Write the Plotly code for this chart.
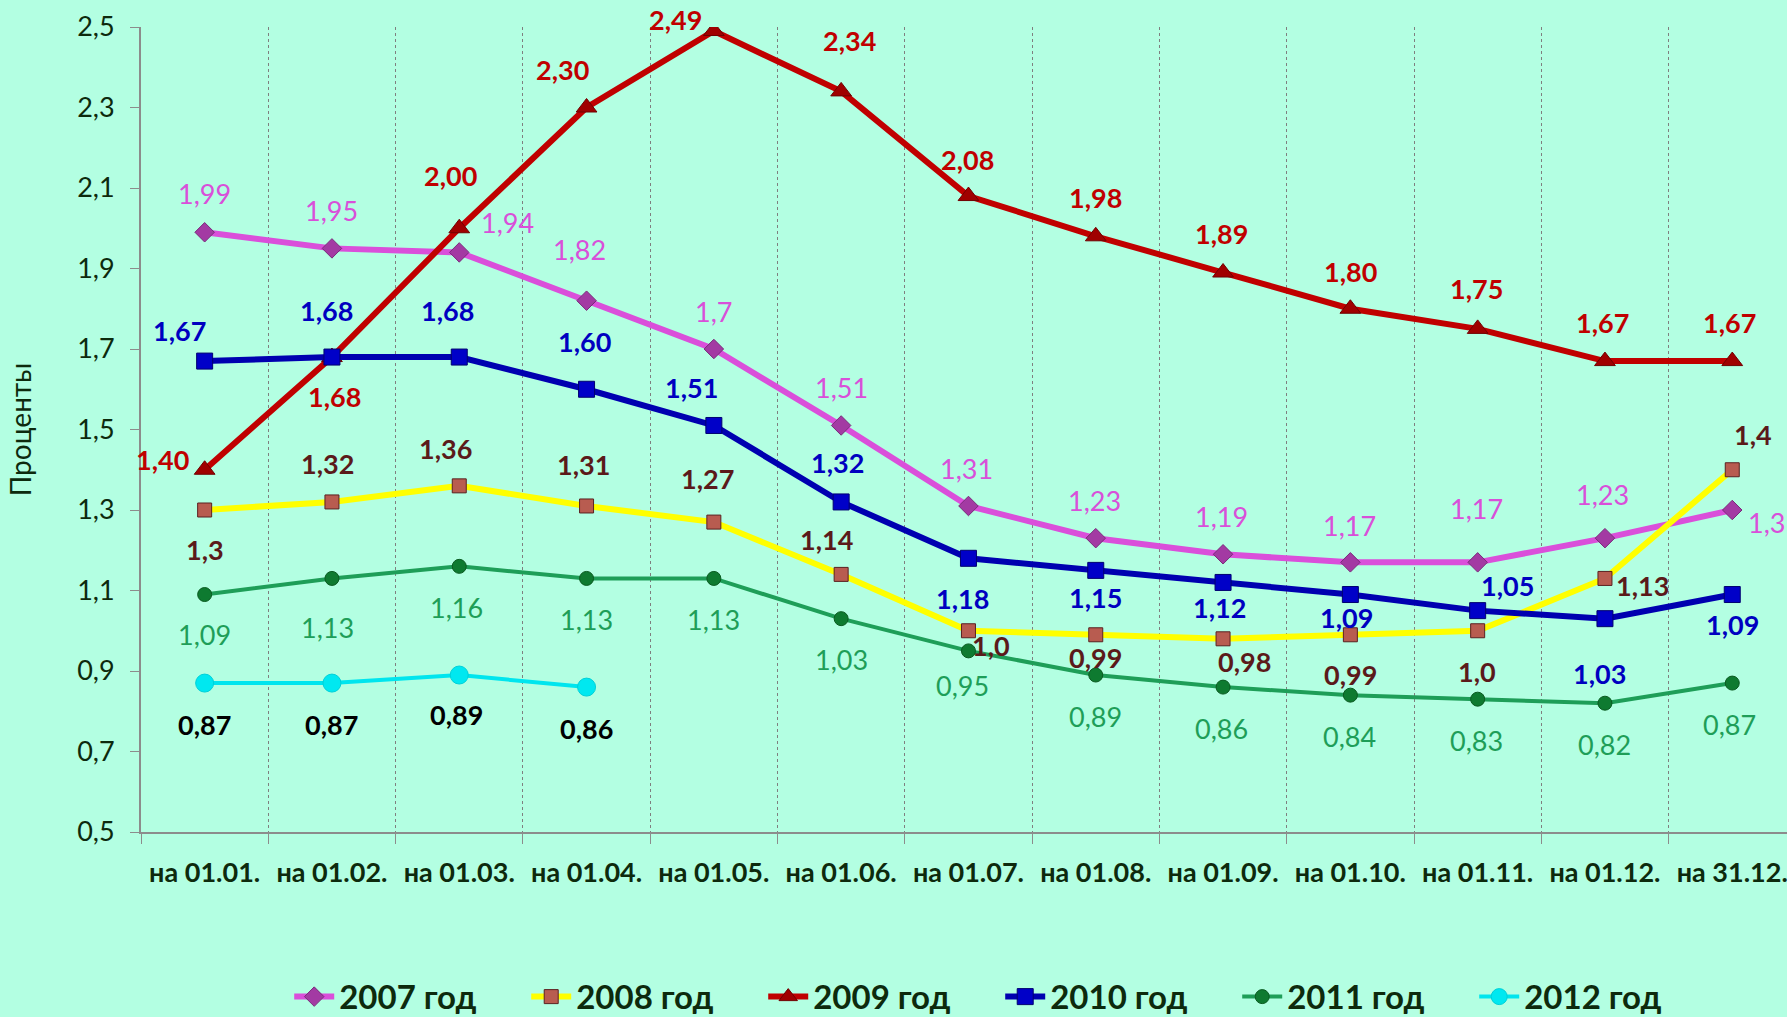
import plotly.graph_objects as go

categories = ["на 01.01.", "на 01.02.", "на 01.03.", "на 01.04.", "на 01.05.", "на 01.06.",
              "на 01.07.", "на 01.08.", "на 01.09.", "на 01.10.", "на 01.11.", "на 01.12.", "на 31.12."]

y2007 = [1.99, 1.95, 1.94, 1.82, 1.70, 1.51, 1.31, 1.23, 1.19, 1.17, 1.17, 1.23, 1.30]
y2008 = [1.30, 1.32, 1.36, 1.31, 1.27, 1.14, 1.00, 0.99, 0.98, 0.99, 1.00, 1.13, 1.40]
y2009 = [1.40, 1.68, 2.00, 2.30, 2.49, 2.34, 2.08, 1.98, 1.89, 1.80, 1.75, 1.67, 1.67]
y2010 = [1.67, 1.68, 1.68, 1.60, 1.51, 1.32, 1.18, 1.15, 1.12, 1.09, 1.05, 1.03, 1.09]
y2011 = [1.09, 1.13, 1.16, 1.13, 1.13, 1.03, 0.95, 0.89, 0.86, 0.84, 0.83, 0.82, 0.87]
y2012 = [0.87, 0.87, 0.89, 0.86]

lab2007 = ["1,99", "1,95", "1,94", "1,82", "1,7", "1,51", "1,31", "1,23", "1,19", "1,17", "1,17", "1,23", "1,3"]
lab2008 = ["1,3", "1,32", "1,36", "1,31", "1,27", "1,14", "1,0", "0,99", "0,98", "0,99", "1,0", "1,13", "1,4"]
lab2009 = ["1,40", "1,68", "2,00", "2,30", "2,49", "2,34", "2,08", "1,98", "1,89", "1,80", "1,75", "1,67", "1,67"]
lab2010 = ["1,67", "1,68", "1,68", "1,60", "1,51", "1,32", "1,18", "1,15", "1,12", "1,09", "1,05", "1,03", "1,09"]
lab2011 = ["1,09", "1,13", "1,16", "1,13", "1,13", "1,03", "0,95", "0,89", "0,86", "0,84", "0,83", "0,82", "0,87"]
lab2012 = ["0,87", "0,87", "0,89", "0,86"]

# label offsets (pixels, dx, dy with screen y downward) - style only
S = 1.14
off2007 = [(0, -34), (0, -33), (42, -26), (-6, -45), (0, -33), (0, -33), (-2, -33), (-1, -33), (-1, -33), (-1, -32), (-1, -47), (-2, -38), (30, 11)]
off2008 = [(0, 35), (-4, -34), (-12, -33), (-3, -36), (-6, -38), (-13, -31), (20, 13), (0, 20), (19, 20), (0, 35), (-1, 36), (33, 6), (18, -31)]
off2009 = [(-37, -9), (2, 35), (-8, -46), (-21, -33), (-34, -10), (7, -45), (-1, -32), (0, -34), (-1, -34), (0, -33), (-1, -35), (-2, -34), (-2, -34)]
off2010 = [(-22, -27), (-5, -41), (-10, -41), (-2, -42), (-20, -33), (-3, -35), (-5, 35), (0, 24), (-3, 22), (-3, 20), (26, -22), (-5, 48), (0, 26)]
off2011 = [(0, 35), (-4, 43), (-2, 36), (0, 36), (0, 36), (0, 36), (-5, 30), (0, 36), (-1, 36), (-1, 36), (-1, 36), (0, 36), (-2, 36)]
off2012 = [(0, 36), (0, 36), (-2, 35), (0, 36)]

FONT = "Lato, 'Liberation Sans Narrow', 'Open Sans', sans-serif"

series = [
    dict(name="2007 год", y=y2007, lab=lab2007, off=off2007, line="#DA4FDA", lw=6,
         msym="diamond", mcol="#A33AA3", mline="#7A2A7A", msize=15, lcol="#D94FD9", bold=False),
    dict(name="2008 год", y=y2008, lab=lab2008, off=off2008, line="#FFFF00", lw=6,
         msym="square", mcol="#B85C50", mline="#5B2020", msize=14, lcol="#5B1A1A", bold=True),
    dict(name="2009 год", y=y2009, lab=lab2009, off=off2009, line="#C00000", lw=6,
         msym="triangle-up", mcol="#A00000", mline="#700000", msize=18, lcol="#C00000", bold=True),
    dict(name="2010 год", y=y2010, lab=lab2010, off=off2010, line="#0000B0", lw=6,
         msym="square", mcol="#0000C8", mline="#000070", msize=16, lcol="#0000C0", bold=True),
    dict(name="2011 год", y=y2011, lab=lab2011, off=off2011, line="#1E9E58", lw=4,
         msym="circle", mcol="#0E7A30", mline="#0A5A20", msize=14, lcol="#1E9E58", bold=False),
    dict(name="2012 год", y=y2012, lab=lab2012, off=off2012, line="#00E5EE", lw=4,
         msym="circle", mcol="#00E8F0", mline="#00D0D8", msize=18, lcol="#000000", bold=True),
]

fig = go.Figure()
annotations = []
for s in series:
    xs = categories[:len(s["y"])]
    fig.add_trace(go.Scatter(
        x=xs, y=s["y"], name=s["name"], mode="lines+markers",
        line=dict(color=s["line"], width=s["lw"]),
        marker=dict(symbol=s["msym"], color=s["mcol"], size=s["msize"],
                    line=dict(color=s["mline"], width=1)),
    ))
    for xv, yv, t, (dx, dy) in zip(xs, s["y"], s["lab"], s["off"]):
        annotations.append(dict(
            x=xv, y=yv, text=t, showarrow=False, xshift=dx * S, yshift=-dy * S,
            font=dict(family=FONT, size=27, color=s["lcol"],
                      weight="bold" if s["bold"] else "normal"),
        ))

fig.update_layout(
    width=1787, height=1017,
    paper_bgcolor="#B3FFE2", plot_bgcolor="#B3FFE2",
    margin=dict(l=141, r=0, t=27, b=185),
    font=dict(family=FONT, color="#0D2A0D"),
    annotations=annotations,
    showlegend=True,
    legend=dict(orientation="h", x=0.522, xanchor="center", yref="container", y=0.02, yanchor="middle",
                font=dict(size=33, color="#0D2A0D", weight="bold"), bgcolor="rgba(0,0,0,0)",
                entrywidth=182, entrywidthmode="pixels", itemwidth=40),
)
fig.update_xaxes(
    type="category", range=[-0.5, 12.43], tickson="boundaries",
    showgrid=True, gridcolor="#7F7F7F", griddash="dot", gridwidth=1,
    showline=True, linecolor="#8C8C8C", linewidth=2,
    ticks="outside", ticklen=10, tickcolor="#8C8C8C", tickwidth=1,
    tickfont=dict(size=27, color="#0D2A0D", weight="bold"), ticklabelstandoff=16,
    zeroline=False,
)
fig.update_yaxes(
    range=[0.5, 2.5], tick0=0.5, dtick=0.2, tickformat=".1f",
    showgrid=False, showline=True, linecolor="#8C8C8C", linewidth=2,
    ticks="outside", ticklen=9, tickcolor="#8C8C8C",
    tickfont=dict(size=27, color="#0D2A0D"), ticklabelstandoff=10,
    title=dict(text="Проценты", font=dict(size=28, color="#0D2A0D"), standoff=37),
    zeroline=False,
)
fig.update_layout(separators=", ")

fig.write_html("out.html", config={"displayModeBar": False},
               post_script="document.body.style.margin='0px';")
